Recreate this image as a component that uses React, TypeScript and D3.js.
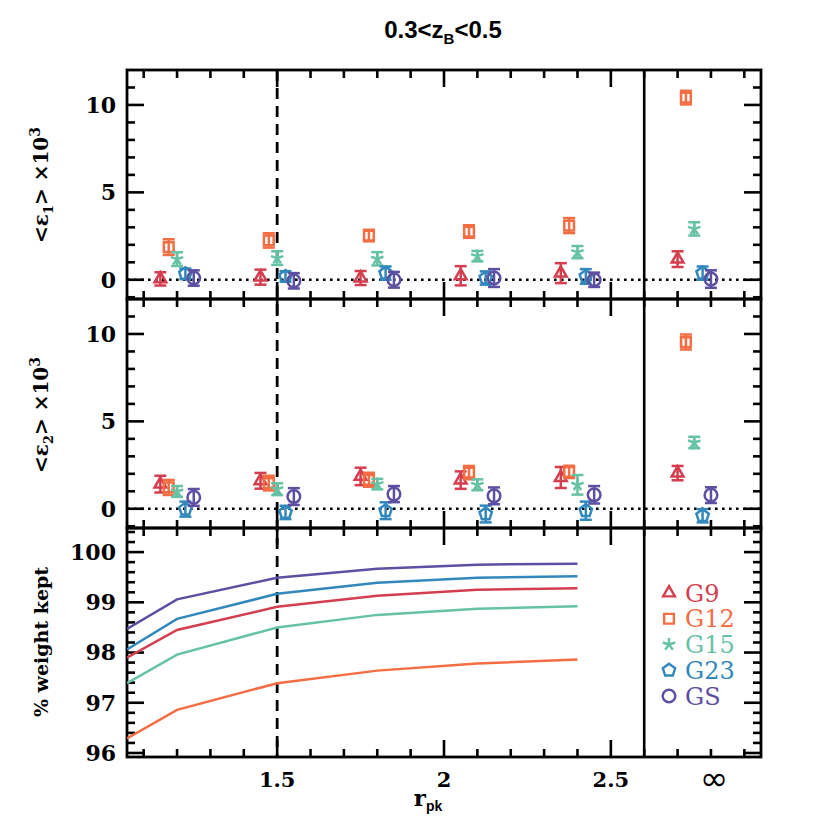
import React, { useRef, useEffect } from "react";
import * as d3 from "d3";

// surveys and their colours
const surveys = ["G9", "G12", "G15", "G23", "GS"];
const colors = ["#d53e4f", "#f46d43", "#66c2a5", "#3288bd", "#5e4fa2"];
const symbols = ["triangle", "square", "star", "pentagon", "circle"];

// r_pk bins (last one is the "infinity" bin) and the small shift per survey
const binCentres = [1.2, 1.5, 1.8, 2.1, 2.4, 2.75];
const surveyOffsets = [-0.05, -0.025, 0, 0.025, 0.05];

// <e1> x 10^3
const e1G9 = [0.05, 0.15, 0.1, 0.23, 0.38, 1.18];
const e1G12 = [1.87, 2.25, 2.53, 2.76, 3.1, 10.42];
const e1G15 = [1.18, 1.24, 1.2, 1.35, 1.58, 2.91];
const e1G23 = [0.34, 0.19, 0.38, 0.1, 0.19, 0.38];
const e1GS = [0.1, -0.06, 0.0, 0.1, 0.0, 0.04];
const e1ErrG9 = [0.38, 0.43, 0.4, 0.55, 0.57, 0.45];
const e1ErrG12 = [0.45, 0.41, 0.33, 0.36, 0.43, 0.39];
const e1ErrG15 = [0.39, 0.39, 0.38, 0.3, 0.35, 0.38];
const e1ErrG23 = [0.3, 0.3, 0.38, 0.38, 0.42, 0.38];
const e1ErrGS = [0.44, 0.44, 0.45, 0.51, 0.41, 0.5];

// <e2> x 10^3
const e2G9 = [1.41, 1.6, 1.85, 1.64, 1.79, 2.04];
const e2G12 = [1.22, 1.47, 1.66, 2.07, 2.11, 9.54];
const e2G15 = [0.99, 1.12, 1.41, 1.37, 1.37, 3.79];
const e2G23 = [-0.02, -0.21, -0.11, -0.3, -0.11, -0.4];
const e2GS = [0.65, 0.7, 0.84, 0.74, 0.8, 0.78];
const e2ErrG9 = [0.48, 0.45, 0.5, 0.5, 0.6, 0.41];
const e2ErrG12 = [0.43, 0.42, 0.4, 0.38, 0.35, 0.43];
const e2ErrG15 = [0.31, 0.34, 0.3, 0.31, 0.56, 0.33];
const e2ErrG23 = [0.43, 0.38, 0.48, 0.48, 0.52, 0.38];
const e2ErrGS = [0.48, 0.48, 0.46, 0.48, 0.5, 0.45];

// % weight kept
const weightR = [1.05, 1.2, 1.5, 1.8, 2.1, 2.4];
const wG9 = [97.9, 98.45, 98.91, 99.13, 99.25, 99.28];
const wG12 = [96.29, 96.86, 97.39, 97.64, 97.78, 97.86];
const wG15 = [97.39, 97.96, 98.5, 98.75, 98.87, 98.92];
const wG23 = [98.06, 98.67, 99.17, 99.39, 99.49, 99.52];
const wGS = [98.47, 99.06, 99.49, 99.67, 99.75, 99.77];

const xTickLabels = ["1.5", "2", "2.5"];
const e1Vals = [e1G9, e1G12, e1G15, e1G23, e1GS];
const e1Errs = [e1ErrG9, e1ErrG12, e1ErrG15, e1ErrG23, e1ErrGS];
const e2Vals = [e2G9, e2G12, e2G15, e2G23, e2GS];
const e2Errs = [e2ErrG9, e2ErrG12, e2ErrG15, e2ErrG23, e2ErrGS];
const wVals = [wG9, wG12, wG15, wG23, wGS];

const tickFont = "'DejaVu Serif', serif";

function symbolPath(kind: string) {
  const p = d3.path();
  if (kind === "triangle") return d3.symbol(d3.symbolTriangle, 60)() as string;
  if (kind === "square") return d3.symbol(d3.symbolSquare, 95)() as string;
  if (kind === "circle") return d3.symbol(d3.symbolCircle, 125)() as string;
  const r = 6.5;
  if (kind === "pentagon") {
    for (let i = 0; i < 5; i++) {
      const a = -Math.PI / 2 + (i * 2 * Math.PI) / 5;
      if (i === 0) p.moveTo(r * Math.cos(a), r * Math.sin(a));
      else p.lineTo(r * Math.cos(a), r * Math.sin(a));
    }
    p.closePath();
    return p.toString();
  }
  // five-armed asterisk
  for (let i = 0; i < 5; i++) {
    const a = -Math.PI / 2 + (i * 2 * Math.PI) / 5;
    p.moveTo(0, 0);
    p.lineTo(r * Math.cos(a), r * Math.sin(a));
  }
  return p.toString();
}

const App = () => {
  const svgRef = useRef<SVGSVGElement>(null);

  useEffect(() => {
    const width = 830;
    const height = 830;
    const left = 127;
    const right = 761;
    const top = 70;
    const panelH = 229;

    const svg = d3
      .select(svgRef.current)
      .attr("width", width)
      .attr("height", height)
      .attr("viewBox", `0 0 ${width} ${height}`);
    svg.selectAll("*").remove();

    const x = d3.scaleLinear().domain([1.05, 2.95]).range([left, right]);
    const yE1 = d3.scaleLinear().domain([-1.1, 12]).range([top + panelH, top]);
    const yE2 = d3.scaleLinear().domain([-1.1, 12]).range([top + 2 * panelH, top + panelH]);
    const yW = d3.scaleLinear().domain([95.92, 100.48]).range([top + 3 * panelH, top + 2 * panelH]);

    const panels = [
      { y: yE1, minor: d3.range(-1, 12, 1), major: [0, 5, 10] },
      { y: yE2, minor: d3.range(-1, 12, 1), major: [0, 5, 10] },
      { y: yW, minor: d3.range(96, 100.41, 0.2), major: [96, 97, 98, 99, 100] },
    ];

    const xMinor = d3.range(1.1, 2.91, 0.1);
    const xMajor = [1.5, 2, 2.5];

    svg
      .append("defs")
      .append("clipPath")
      .attr("id", "wclip")
      .append("rect")
      .attr("x", left)
      .attr("y", top + 2 * panelH)
      .attr("width", right - left)
      .attr("height", panelH);

    // PANELS: frames and ticks
    panels.forEach((pn, i) => {
      const y0 = top + i * panelH;
      const y1 = y0 + panelH;
      const g = svg.append("g").attr("stroke", "#000").attr("stroke-width", 2.6);

      xMinor.forEach((v) => {
        const isMajor = xMajor.some((m) => Math.abs(m - v) < 1e-6);
        const len = isMajor ? 17 : 8;
        g.append("line").attr("x1", x(v)).attr("x2", x(v)).attr("y1", y0).attr("y2", y0 + len);
        g.append("line").attr("x1", x(v)).attr("x2", x(v)).attr("y1", y1).attr("y2", y1 - len);
      });
      pn.minor.forEach((v) => {
        const isMajor = pn.major.some((m) => Math.abs(m - v) < 1e-6);
        const len = isMajor ? 17 : 8;
        const yy = pn.y(v);
        if (yy <= y0 + 1 || yy >= y1 - 1) return;
        g.append("line").attr("x1", left).attr("x2", left + len).attr("y1", yy).attr("y2", yy);
        g.append("line").attr("x1", right).attr("x2", right - len).attr("y1", yy).attr("y2", yy);
      });

      // y tick labels
      svg
        .append("g")
        .selectAll("text")
        .data(pn.major)
        .join("text")
        .attr("x", left - 11)
        .attr("y", (d) => pn.y(d))
        .attr("dy", "0.36em")
        .attr("text-anchor", "end")
        .style("font-family", tickFont)
        .style("font-weight", "bold")
        .style("font-size", "22px")
        .text((d) => String(d));

      svg
        .append("rect")
        .attr("x", left)
        .attr("y", y0)
        .attr("width", right - left)
        .attr("height", panelH)
        .attr("fill", "none")
        .attr("stroke", "#000")
        .attr("stroke-width", 2.8);
    });

    // zero lines (dotted)
    [yE1, yE2].forEach((y) => {
      svg
        .append("line")
        .attr("x1", left)
        .attr("x2", right)
        .attr("y1", y(0))
        .attr("y2", y(0))
        .attr("stroke", "#000")
        .attr("stroke-width", 2.6)
        .attr("stroke-dasharray", "2.6,4.4");
    });

    // vertical reference lines
    svg
      .append("line")
      .attr("x1", x(1.5))
      .attr("x2", x(1.5))
      .attr("y1", top)
      .attr("y2", top + 3 * panelH)
      .attr("stroke", "#000")
      .attr("stroke-width", 2.8)
      .attr("stroke-dasharray", "11,7");
    svg
      .append("line")
      .attr("x1", x(2.6))
      .attr("x2", x(2.6))
      .attr("y1", top)
      .attr("y2", top + 3 * panelH)
      .attr("stroke", "#000")
      .attr("stroke-width", 2.6);

    // POINTS with error bars
    const drawPoints = (y: d3.ScaleLinear<number, number>, vals: number[][], errs: number[][]) => {
      surveys.forEach((s, si) => {
        const g = svg
          .append("g")
          .attr("stroke", colors[si])
          .attr("fill", "none")
          .attr("stroke-width", 2.5);
        binCentres.forEach((c, bi) => {
          const px = x(c + surveyOffsets[si]);
          const v = vals[si][bi];
          const e = errs[si][bi];
          const yt = y(v + e);
          const yb = y(v - e);
          g.append("line").attr("x1", px).attr("x2", px).attr("y1", yt).attr("y2", yb);
          g.append("line").attr("x1", px - 6).attr("x2", px + 6).attr("y1", yt).attr("y2", yt);
          g.append("line").attr("x1", px - 6).attr("x2", px + 6).attr("y1", yb).attr("y2", yb);
          g.append("path")
            .attr("d", symbolPath(symbols[si]))
            .attr("transform", `translate(${px},${y(v)})`);
        });
      });
    };
    drawPoints(yE1, e1Vals, e1Errs);
    drawPoints(yE2, e2Vals, e2Errs);

    // WEIGHT LINES
    const line = d3
      .line<number>()
      .x((_, i) => x(weightR[i]))
      .y((d) => yW(d));
    const wg = svg.append("g").attr("clip-path", "url(#wclip)");
    wVals.forEach((vals, si) => {
      wg.append("path")
        .attr("d", line(vals))
        .attr("fill", "none")
        .attr("stroke", colors[si])
        .attr("stroke-width", 2.5);
    });

    // LEGEND
    const legendY = d3.scalePoint().domain(surveys).range([593, 696]);
    surveys.forEach((s, si) => {
      svg
        .append("path")
        .attr("d", symbolPath(symbols[si]))
        .attr("transform", `translate(669,${legendY(s)})`)
        .attr("fill", "none")
        .attr("stroke", colors[si])
        .attr("stroke-width", 2.4);
      svg
        .append("text")
        .attr("x", 685)
        .attr("y", legendY(s)!)
        .attr("dy", "0.36em")
        .attr("fill", colors[si])
        .style("font-family", tickFont)
        .style("font-size", "24px")
        .text(s);
    });

    // X TICK LABELS
    svg
      .append("g")
      .selectAll("text")
      .data(xMajor)
      .join("text")
      .attr("x", (d) => x(d))
      .attr("y", 787)
      .attr("text-anchor", "middle")
      .style("font-family", tickFont)
      .style("font-weight", "bold")
      .style("font-size", "21px")
      .text((_, i) => xTickLabels[i]);
    svg
      .append("text")
      .attr("x", x(2.81))
      .attr("y", 790)
      .attr("text-anchor", "middle")
      .style("font-family", "'DejaVu Sans', sans-serif")
      .style("font-size", "34px")
      .text("∞");

    // AXIS TITLES
    const xt = svg
      .append("text")
      .attr("x", 428)
      .attr("y", 806)
      .attr("text-anchor", "middle")
      .style("font-family", tickFont)
      .style("font-weight", "bold")
      .style("font-size", "23px");
    xt.append("tspan").text("r");
    xt.append("tspan").attr("dy", 5).style("font-size", "14px").style("font-family", "'Liberation Sans', sans-serif").text("pk");

    const yLabel = (cy: number, idx: string) => {
      const t = svg
        .append("text")
        .attr("transform", `translate(48,${cy}) rotate(-90)`)
        .attr("text-anchor", "middle")
        .style("font-family", tickFont)
        .style("font-weight", "bold")
        .style("font-size", "20px");
      t.append("tspan").text("<ε");
      t.append("tspan").attr("dy", 5).style("font-size", "13px").text(idx);
      t.append("tspan").attr("dy", -5).text("> ×10");
      t.append("tspan").attr("dy", -8).style("font-size", "14px").text("3");
    };
    yLabel(185, "1");
    yLabel(415, "2");
    svg
      .append("text")
      .attr("transform", `translate(48,642) rotate(-90)`)
      .attr("text-anchor", "middle")
      .style("font-family", tickFont)
      .style("font-weight", "bold")
      .style("font-size", "19px")
      .text("% weight kept");

    // TITLE
    const title = svg
      .append("text")
      .attr("x", 443)
      .attr("y", 38)
      .attr("text-anchor", "middle")
      .style("font-family", "'Liberation Sans', sans-serif")
      .style("font-weight", "bold")
      .style("font-size", "24px");
    title.append("tspan").text("0.3<z");
    title.append("tspan").attr("dy", 6).style("font-size", "15px").text("B");
    title.append("tspan").attr("dy", -6).text("<0.5");
  }, []);

  return (
    <div style={{ position: "absolute", left: 0, top: 0 }}>
      <svg ref={svgRef}></svg>
    </div>
  );
};

export default App;
